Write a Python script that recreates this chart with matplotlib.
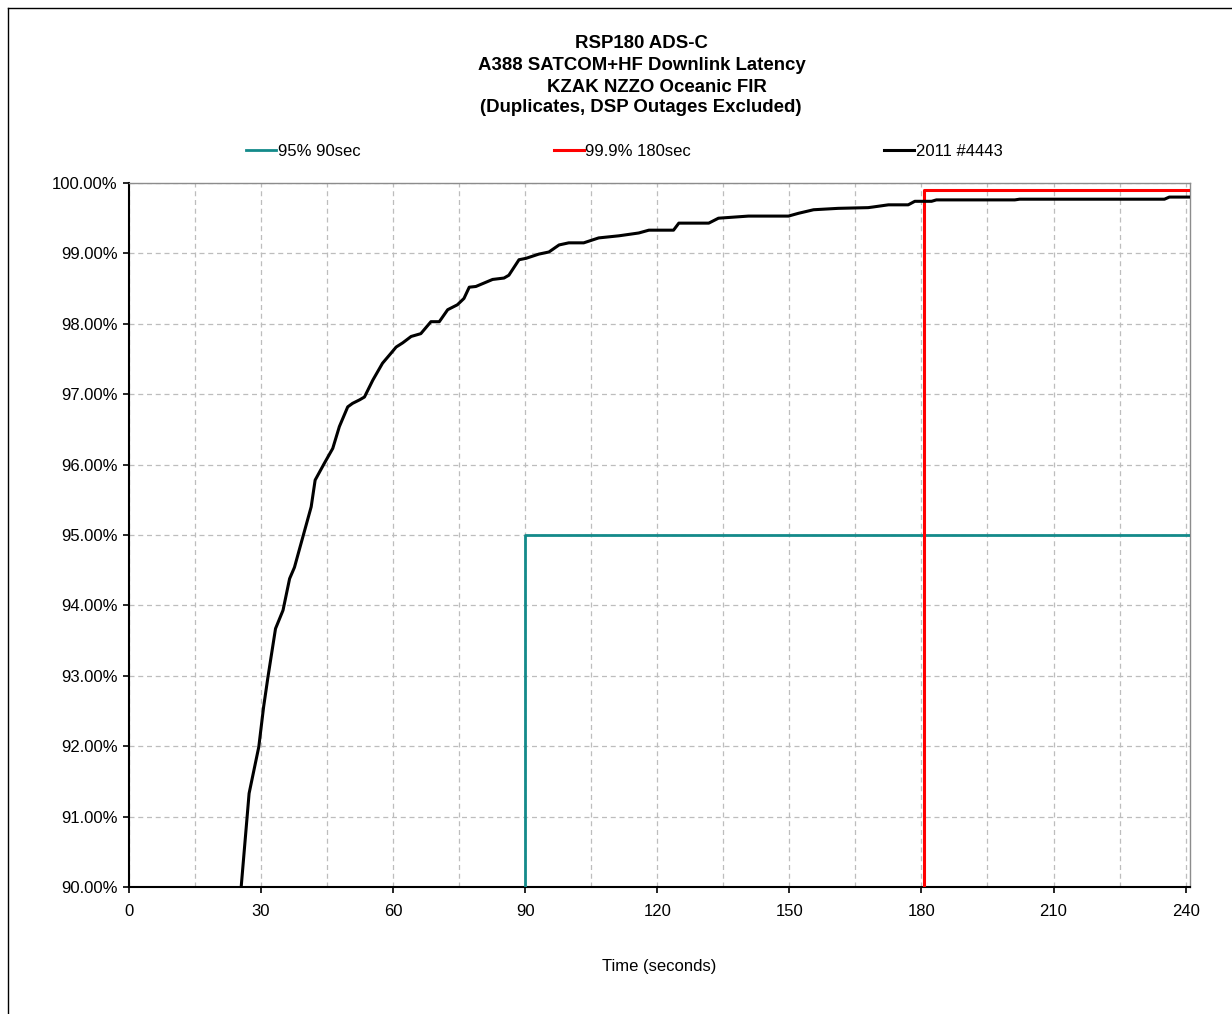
import matplotlib
matplotlib.use("Agg")
import matplotlib.pyplot as plt
from matplotlib.lines import Line2D
from matplotlib.ticker import MultipleLocator, FuncFormatter

plt.rcParams['font.family'] = ['Liberation Sans', 'DejaVu Sans']

# ---- data ----
time_s = [25.5, 27.3, 29.5, 30.6, 31.6, 33.3, 35.0, 36.5, 37.6, 38.7, 41.4, 42.3,
          44.4, 46.3, 47.8, 49.7, 50.8, 52.4, 53.5, 55.4, 57.6, 59.5, 60.7, 62.2,
          64.1, 66.3, 68.6, 70.5, 72.4, 74.6, 76.1, 77.3, 78.8, 80.7, 82.6, 85.2,
          86.3, 88.6, 90.2, 93.1, 95.4, 97.7, 99.9, 103.3, 106.7, 111.3, 115.8,
          118.1, 123.7, 124.9, 131.7, 133.9, 140.7, 149.8, 152.1, 155.5, 161.1,
          167.9, 169.1, 172.5, 177.0, 178.5, 182.3, 183.4, 201.2, 202.3, 235.2,
          236.3, 241.0]
pct_2011 = [90.00, 91.33, 91.99, 92.56, 92.99, 93.67, 93.93, 94.38, 94.54, 94.79,
            95.40, 95.78, 96.02, 96.23, 96.54, 96.82, 96.87, 96.92, 96.96, 97.20,
            97.44, 97.58, 97.67, 97.73, 97.82, 97.86, 98.03, 98.03, 98.20, 98.27,
            98.36, 98.52, 98.53, 98.58, 98.63, 98.65, 98.69, 98.91, 98.93, 98.99,
            99.02, 99.12, 99.15, 99.15, 99.22, 99.25, 99.29, 99.33, 99.33, 99.43,
            99.43, 99.50, 99.53, 99.53, 99.57, 99.62, 99.64, 99.65, 99.66, 99.69,
            99.69, 99.74, 99.74, 99.76, 99.76, 99.77, 99.77, 99.80, 99.80]

req95_x = [90, 90, 241]
req95_y = [90, 95, 95]
req999_x = [180.5, 180.5, 241]
req999_y = [90, 99.9, 99.9]

labels = ["95% 90sec", "99.9% 180sec", "2011 #4443"]
colors = ["#138a8a", "#ff0000", "#000000"]

title_lines = ["RSP180 ADS-C", "A388 SATCOM+HF Downlink Latency",
               "KZAK NZZO Oceanic FIR", "(Duplicates, DSP Outages Excluded)"]
x_ticks = [0, 30, 60, 90, 120, 150, 180, 210, 240]

# ---- figure ----
W, H = 1232, 1014
fig = plt.figure(figsize=(W / 100, H / 100), dpi=100)
ax = fig.add_axes([128.9 / W, 1 - 887 / H, (1190 - 128.9) / W, (887 - 183) / H])

ax.plot(req95_x, req95_y, color=colors[0], lw=2.0, label=labels[0], zorder=3)
ax.plot(req999_x, req999_y, color=colors[1], lw=2.2, label=labels[1], zorder=3)
ax.plot(time_s, pct_2011, color=colors[2], lw=2.2, label=labels[2], zorder=4)

ax.set_xlim(0, 241)
ax.set_ylim(90, 100)
ax.set_xticks(x_ticks)
ax.xaxis.set_minor_locator(MultipleLocator(15))
ax.yaxis.set_major_locator(MultipleLocator(1))
ax.yaxis.set_major_formatter(FuncFormatter(lambda v, p: f"{v:.2f}%"))

ax.grid(True, which='both', color='#bdbdbd', linestyle=(0, (4, 3)), lw=0.9)
ax.set_axisbelow(True)
ax.tick_params(which='major', direction='out', length=4, width=1.2,
               labelsize=12, colors='black', pad=4)
ax.tick_params(which='minor', length=0)
ax.tick_params(axis='x', pad=8)

for s in ['left', 'bottom']:
    ax.spines[s].set_color('black')
    ax.spines[s].set_linewidth(1.5)
for s in ['top', 'right']:
    ax.spines[s].set_color('#8c8c8c')
    ax.spines[s].set_linewidth(1.0)

ax.set_xlabel("Time (seconds)", fontsize=12, labelpad=29)

# title lines
title_y = [44, 65, 87, 108]
title_cx = [641, 642, 657, 641]
for txt, yy, cx in zip(title_lines, title_y, title_cx):
    fig.text(cx / W, 1 - yy / H, txt, ha='center', va='center',
             fontsize=13.4, fontweight='bold')

# legend
fig.legend(loc='center', bbox_to_anchor=(624.5 / W, 1 - 151 / H), ncol=3,
           frameon=False, fontsize=12, handlelength=1.8, handletextpad=0.1,
           columnspacing=11.6)

# figure border (left & top)
fig.add_artist(Line2D([8 / W, 8 / W], [0, 1 - 8 / H], color='black', lw=1.0,
                      transform=fig.transFigure))
fig.add_artist(Line2D([8 / W, 1], [1 - 8 / H, 1 - 8 / H], color='black', lw=1.0,
                      transform=fig.transFigure))

fig.savefig("out.png", dpi=100)
